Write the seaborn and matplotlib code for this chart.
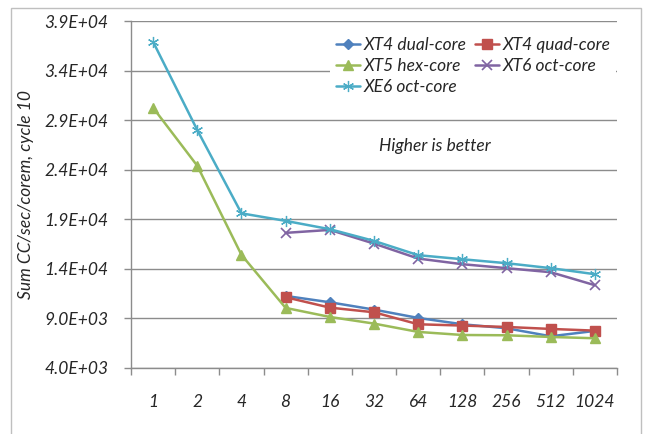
import numpy as np
import pandas as pd
import matplotlib
matplotlib.use("Agg")
import matplotlib.pyplot as plt
from matplotlib.patches import Rectangle
from matplotlib.ticker import FixedLocator, FuncFormatter, NullFormatter
import seaborn as sns

# Core counts on the x axis
cores = ["1", "2", "4", "8", "16", "32", "64", "128", "256", "512", "1024"]

# Sum CC/sec/corem at cycle 10 for each machine (NaN = not run)
xt4_dual = [np.nan, np.nan, np.nan, 11270, 10630, 9890, 9050, 8410, 8010, 7200, 7740]
xt4_quad = [np.nan, np.nan, np.nan, 11140, 10090, 9620, 8410, 8280, 8140, 7940, 7770]
xt5_hex = [30250, 24400, 15410, 10060, 9150, 8480, 7640, 7330, 7300, 7130, 7000]
xt6_oct = [np.nan, np.nan, np.nan, 17630, 17930, 16550, 15040, 14470, 14070, 13660, 12350]
xe6_oct = [36900, 28000, 19600, 18840, 18000, 16820, 15380, 14970, 14570, 14070, 13460]

series_names = ["XT4 dual-core", "XT4 quad-core", "XT5 hex-core", "XT6 oct-core", "XE6 oct-core"]
series_values = [xt4_dual, xt4_quad, xt5_hex, xt6_oct, xe6_oct]
colors = ["#4F81BD", "#C0504D", "#9BBB59", "#8064A2", "#4BACC6"]
markers = ["D", "s", "^", "x", (6, 2, 0)]
sizes = [5, 7, 7, 7, 8]
edge_widths = [1.0, 1.0, 1.0, 1.2, 0.9]

yticks = [4000, 9000, 14000, 19000, 24000, 29000, 34000, 39000]

df = pd.concat(
    [pd.DataFrame({"cores": cores, "value": v, "machine": n})
     for n, v in zip(series_names, series_values)],
    ignore_index=True,
)
df["cores"] = pd.Categorical(df["cores"], categories=cores, ordered=True)

sns.set_style("white")
plt.rcParams["font.family"] = ["Lato", "DejaVu Sans"]
plt.rcParams["font.style"] = "italic"

fig = plt.figure(figsize=(6.47, 4.34), dpi=100)
ax = fig.add_axes([131 / 647, 1 - 368 / 434, (617 - 131) / 647, (368 - 21) / 434])

# outer chart frame
fig.patches.append(Rectangle((11 / 647, -0.05), (641 - 11) / 647, 1.05 - 8 / 434,
                             transform=fig.transFigure, fill=False,
                             edgecolor="#BFBFBF", linewidth=1.0, zorder=0))

grid_c = "#8C8C8C"
for y in yticks:
    ax.axhline(y, color=grid_c, linewidth=1.0, zorder=0)

pos = np.arange(len(cores))
for name, c, m, s, ew in zip(series_names, colors, markers, sizes, edge_widths):
    sub = df[df["machine"] == name]
    sns.lineplot(x=pos, y=sub["value"].to_numpy(), ax=ax, color=c, marker=m,
                 markersize=s, markeredgecolor=c, markeredgewidth=ew,
                 linewidth=1.8, label=name, zorder=3)

ax.set_xlim(-0.5, len(cores) - 0.5)
ax.set_ylim(4000, 39000)

ax.set_yticks(yticks)
ax.yaxis.set_major_formatter(FuncFormatter(lambda v, p: f"{v:.1E}"))
ax.tick_params(axis="y", which="major", length=5, width=1, color=grid_c,
               pad=11, labelsize=12.5, direction="out", left=True)

ax.xaxis.set_major_locator(FixedLocator(np.arange(-0.5, len(cores), 1.0)))
ax.xaxis.set_major_formatter(NullFormatter())
ax.xaxis.set_minor_locator(FixedLocator(pos))
ax.set_xticklabels(cores, minor=True)
ax.tick_params(axis="x", which="major", length=5, width=1, color=grid_c,
               direction="out", bottom=True)
ax.tick_params(axis="x", which="minor", length=0, pad=19, labelsize=12.5)

for side in ["top", "right"]:
    ax.spines[side].set_visible(False)
for side in ["left", "bottom"]:
    ax.spines[side].set_color(grid_c)
    ax.spines[side].set_linewidth(1.0)

ax.set_xlabel("")
ax.set_ylabel("Sum CC/sec/corem, cycle 10", fontsize=12.5)
ax.yaxis.set_label_coords(-0.200, 0.5)

ax.text(0.625, 0.64, "Higher is better", transform=ax.transAxes,
        ha="center", va="center", fontsize=12.5)

handles, labels = ax.get_legend_handles_labels()
order = [0, 2, 4, 1, 3]
leg = ax.legend([handles[i] for i in order], [labels[i] for i in order],
                ncol=2, loc="upper right", bbox_to_anchor=(1.016, 0.995),
                frameon=True, fancybox=False, framealpha=1.0, edgecolor="white",
                fontsize=12.5, handlelength=1.4, handletextpad=0.2,
                columnspacing=0.5, labelspacing=0.3, borderpad=0.3)
leg.get_frame().set_linewidth(0)

fig.savefig("out.png", dpi=100)
